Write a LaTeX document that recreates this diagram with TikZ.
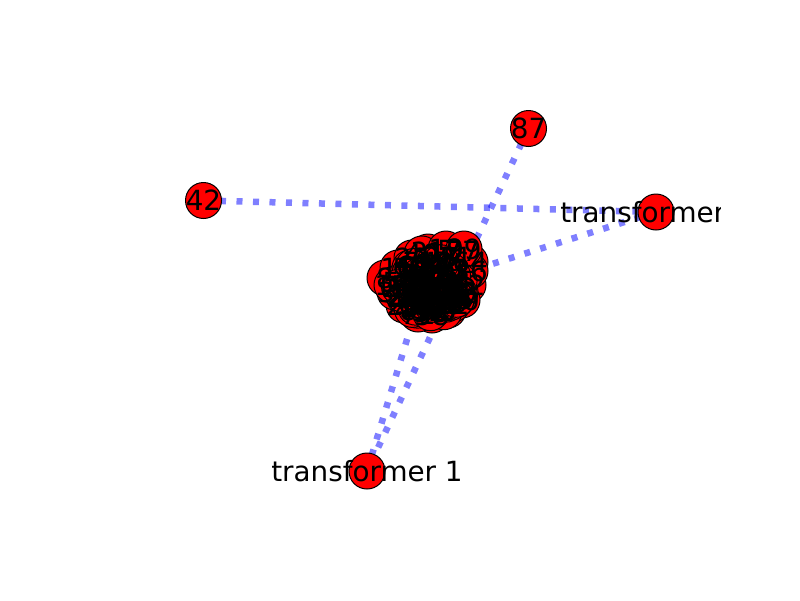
\documentclass[tikz,border=0pt]{standalone}
\usepackage{fontspec}
\setmainfont{DejaVu Sans}
\usetikzlibrary{backgrounds}
\begin{document}
\begin{tikzpicture}[x=1pt,y=-1pt,
  vert/.style={circle,draw=black,line width=1pt,fill=red,minimum size=36pt,inner sep=0pt},
  lab/.style={font=\fontsize{27.8}{32}\selectfont,text height=20.2pt,text depth=0pt,inner sep=0pt,text=black},
  edgeline/.style={draw=blue,opacity=0.5,line width=6.5pt,dash pattern=on 6pt off 10.5pt}]
\useasboundingbox (0,0) rectangle (800,600);
% outer nodes
\node[vert] (n42) at (203.5,200.5) {};
\node[vert] (n87) at (528.5,128.5) {};
\node[vert] (t2) at (656,212) {};
\node[vert] (t1) at (367,471) {};
% cluster nodes (outer ring, placed by hand)
\foreach \x/\y/\l [count=\i] in {
  385/278/8, 398/268/15, 412/258/23, 428/252/31, 446/250/5, 462/251/77,
  470/262/64, 468/285/12, 462/300/90, 448/310/3, 432/315/58, 418/314/71,
  404/305/26, 395/292/39, 410/280/44, 425/270/17, 440/265/82, 455/268/9,
  452/285/60, 438/290/33, 422/290/1, 408/295/95, 430/302/48, 445/298/21,
  470/271/36, 400/282/53, 416/305/66, 436/278/7, 455/257/11, 440/257/28,
  420/262/74, 392/285/19, 460/292/50, 424/280/85, 448/275/2, 434/308/62,
  422/254/40, 446/249/13, 464/249/99}
  \node[vert] (c\i) at (\x,\y) {};
% cluster nodes (inner core)
\pgfmathsetseed{7}
\foreach \i in {1,...,60}{
  \pgfmathsetmacro\ang{360*rnd}
  \pgfmathsetmacro\rad{sqrt(rnd)}
  \pgfmathsetmacro\px{430+31*\rad*cos(\ang)}
  \pgfmathsetmacro\py{288+27*\rad*sin(\ang)}
  \node[vert] (r\i) at (\px,\py) {};
}
% edges (under the nodes)
\begin{scope}[on background layer]
  \draw[edgeline] (n42.center) -- (t2.center);
  \draw[edgeline] (n87.center) -- (t1.center);
  \draw[edgeline] (t1.center) -- (c21.center);
  \draw[edgeline] (t2.center) -- (c25.center);
\end{scope}
% labels
\begin{scope}
  \clip (80,60) rectangle (720,540);
  \node[lab] at (n42) {42};
  \node[lab] at (n87) {87};
  \node[lab] at (t2) {transformer 2};
  \node[lab] at (t1) {transformer 1};
  \foreach \x/\y/\l [count=\i] in {
    385/278/8, 398/268/15, 412/258/23, 428/252/31, 446/250/5, 462/251/77,
    470/262/64, 468/285/12, 462/300/90, 448/310/3, 432/315/58, 418/314/71,
    404/305/26, 395/292/39, 410/280/44, 425/270/17, 440/265/82, 455/268/9,
    452/285/60, 438/290/33, 422/290/1, 408/295/95, 430/302/48, 445/298/21,
    470/271/36, 400/282/53, 416/305/66, 436/278/7, 455/257/11, 440/257/28,
    420/262/74, 392/285/19, 460/292/50, 424/280/85, 448/275/2, 434/308/62,
    422/254/40, 446/249/13, 464/249/99}
    \node[lab] at (c\i) {\l};
  \foreach \i in {1,...,60}{
    \pgfmathtruncatemacro\num{mod(\i*37+11,100)}
    \node[lab] at (r\i) {\num};
  }
\end{scope}
\end{tikzpicture}
\end{document}
